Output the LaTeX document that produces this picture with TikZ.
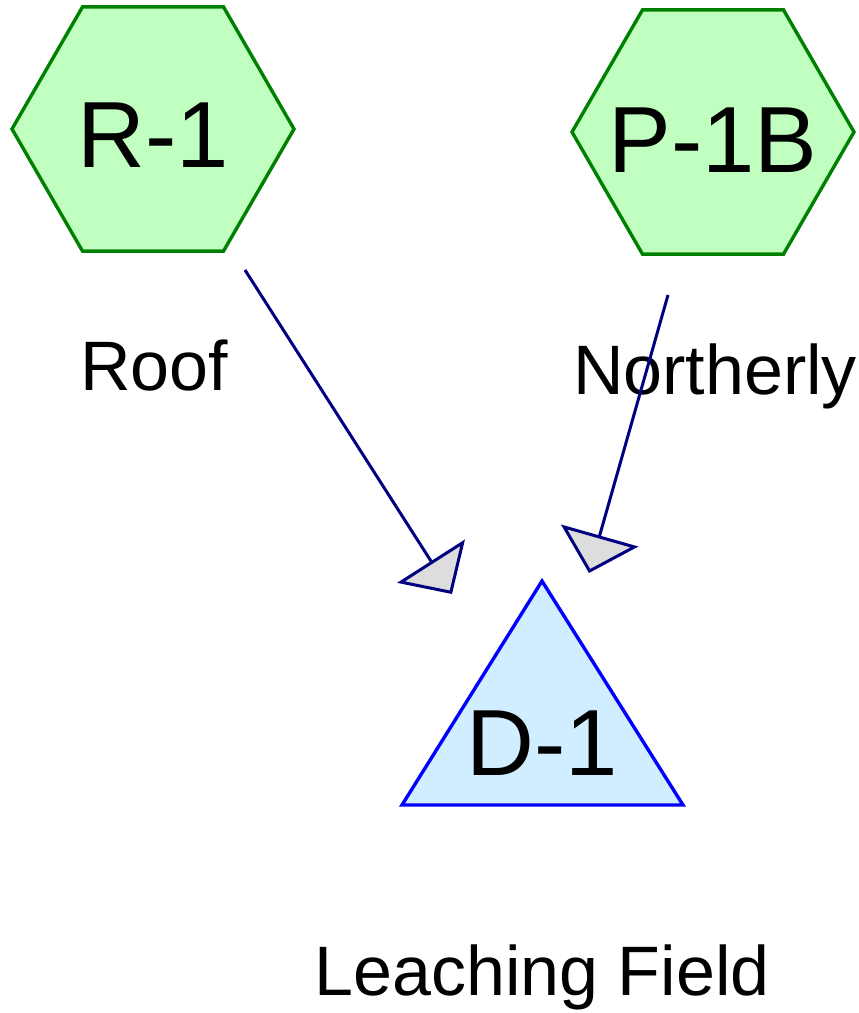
\documentclass[tikz,border=0pt]{standalone}
\usepackage{fontspec}
\setmainfont{Liberation Sans}
\usepackage{tikz}
\usetikzlibrary{shapes.geometric,arrows.meta}

\definecolor{srcfill}{HTML}{C0FFC0}
\definecolor{srcline}{HTML}{008000}
\definecolor{sinkfill}{HTML}{D0EEFF}
\definecolor{sinkline}{HTML}{0000FF}
\definecolor{linkline}{HTML}{000080}
\definecolor{headfill}{HTML}{DDDDDD}

\begin{document}
\begin{tikzpicture}[x=1pt,y=-1pt,
    source/.style={regular polygon,regular polygon sides=6,minimum size=282pt,
      inner sep=0pt,draw=srcline,fill=srcfill,line width=3.4pt},
    idtext/.style={anchor=base,font=\fontsize{94}{100}\selectfont},
    tag/.style={anchor=base,font=\fontsize{70}{74}\selectfont},
    link/.style={draw=linkline,line width=3pt,
      -{Triangle[length=39pt,width=80pt,fill=headfill]}}]
  \useasboundingbox (0,0) rectangle (859,1013);
  \node[source] (r1) at (153,129) {};
  \node[source] (p1b) at (713,132) {};
  \draw[draw=sinkline,fill=sinkfill,line width=3.4pt]
    (542,581) -- (683,805) -- (402,805) -- cycle;
  \node[idtext] (r1-id) at (153,167) {R-1};
  \node[idtext] (p1b-id) at (713,172) {P-1B};
  \node[idtext] (d1-id) at (542,775) {D-1};
  \node[tag] (r1-name) at (154,390) {Roof};
  \node[tag] (p1b-name) at (715,394) {Northerly};
  \node[tag] (d1-name) at (542,995) {Leaching Field};
  \coordinate (r1-out) at (245,270);
  \coordinate (p1b-out) at (668,295);
  \coordinate (d1-in1) at (452,594);
  \coordinate (d1-in2) at (589,573);
  \draw[link] (r1-out) to (d1-in1);
  \draw[link] (p1b-out) to (d1-in2);
\end{tikzpicture}
\end{document}
